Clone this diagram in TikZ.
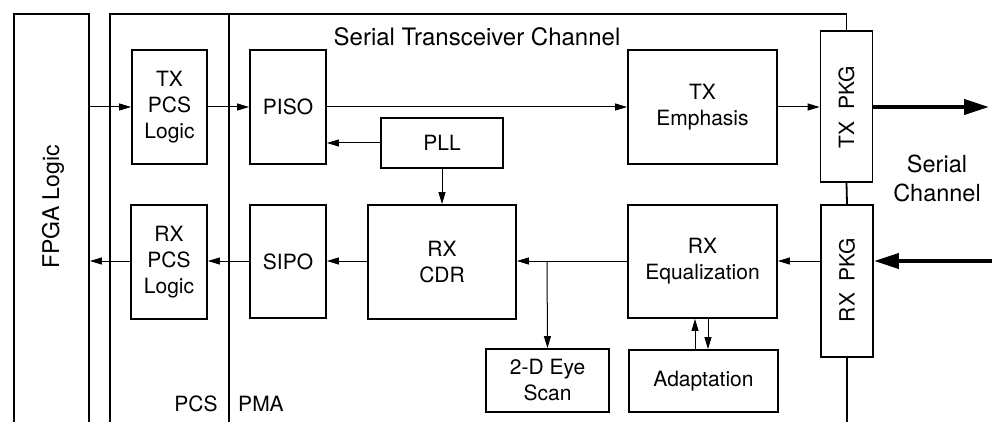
\documentclass[tikz,border=0pt]{standalone}
\usepackage{fontspec}
\setmainfont{TeX Gyre Heros}
\usetikzlibrary{arrows.meta}
\begin{document}
\begin{tikzpicture}[x=1pt,y=-1pt,
  box/.style={draw, line width=1.8pt, inner sep=0pt, align=center, font=\fontsize{21}{26}\selectfont},
  arr/.style={line width=1pt, -{Triangle[length=12pt,width=7pt]}},
  bigarr/.style={line width=4pt, -{Triangle[length=25pt,width=15pt]}},
  frame/.style={line width=1.8pt},
  lbl/.style={inner sep=0pt, align=center, font=\fontsize{21}{26}\selectfont}]
\useasboundingbox (0,0) rectangle (998,422);

% FPGA box (open at the bottom, runs off the page)
\node[box, minimum width=75pt, minimum height=430pt] (fpga) at (51.5,229) {};
\node[lbl, rotate=90, font=\fontsize{23}{28}\selectfont] (fpgatext) at (53,207) {FPGA Logic};

% blocks
\node[box, minimum width=75pt, minimum height=114pt] (txpcs) at (169.5,107) {TX\\PCS\\Logic};
\node[box, minimum width=76pt, minimum height=114pt] (piso) at (288,107) {PISO};
\node[box, minimum width=149pt, minimum height=114pt] (txemph) at (702.5,107) {TX\\Emphasis};
\node[box, minimum width=122pt, minimum height=50pt] (pll) at (442,143) {PLL};
\node[box, minimum width=76pt, minimum height=114pt] (rxpcs) at (169,262) {RX\\PCS\\Logic};
\node[box, minimum width=76pt, minimum height=113pt] (sipo) at (288,261.5) {SIPO};
\node[box, minimum width=148pt, minimum height=114pt] (rxcdr) at (442,262) {RX\\CDR};
\node[box, minimum width=149pt, minimum height=113pt] (rxeq) at (702.5,261.5) {RX\\Equalization};
\node[box, minimum width=123pt, minimum height=63pt] (eye) at (547.5,380.5) {2-D Eye\\Scan};
\node[box, minimum width=149pt, minimum height=62pt] (adapt) at (703.5,381) {Adaptation};
\node[box, minimum width=52pt, minimum height=151pt] (txpkg) at (846.5,106.5) {};
\node[lbl, rotate=90] (txpkgtext) at (846.5,107.5) {TX~~PKG};
\node[box, minimum width=52pt, minimum height=152pt] (rxpkg) at (847,281) {};
\node[lbl, rotate=90] (rxpkgtext) at (847,280) {RX~~PKG};

% channel frame
\draw[frame] (110,440) -- (110,14) -- (txpkg.north |- 0,14) -- (txpkg.north);
\draw[frame] (txpkg.south) -- (rxpkg.north);
\draw[frame] (rxpkg.south) -- (rxpkg.south |- 0,440);
\draw[frame] (229,14) -- (229,440);

% labels
\node[lbl, font=\fontsize{24}{28}\selectfont] (title) at (477,37) {Serial Transceiver Channel};
\node[lbl, font=\fontsize{23.5}{29}\selectfont] (serch) at (937,178) {Serial\\Channel};
\node[lbl] (pcs) at (196,404) {PCS};
\node[lbl] (pma) at (261,404) {PMA};

% coordinates for free ends
\coordinate (txout) at (989,107);
\coordinate (rxin) at (992,261);
\coordinate (split) at (547,261);

% TX path
\draw[arr] (fpga.east |- txpcs.west) -- (txpcs.west);
\draw[arr] (txpcs.east) -- (piso.west);
\draw[arr] (piso.east) -- (txemph.west);
\draw[arr] (txemph.east) -- (txpkg.west |- txemph.east);
\draw[bigarr] (txpkg.east |- txout) -- (txout);

% PLL
\draw[arr] (pll.west) -- (piso.east |- pll.west);
\draw[arr] (pll.south) -- (rxcdr.north);

% RX path
\draw[bigarr] (rxin) -- (rxpkg.east |- rxin);
\draw[arr] (rxpkg.west |- rxin) -- (rxeq.east |- rxin);
\draw[arr] (rxeq.west |- rxin) -- (rxcdr.east |- rxin);
\draw[arr] (split) -- (eye.north);
\draw[arr] (rxcdr.west |- rxin) -- (sipo.east |- rxin);
\draw[arr] (sipo.west |- rxin) -- (rxpcs.east |- rxin);
\draw[arr] (rxpcs.west |- rxin) -- (fpga.east |- rxin);

% adaptation loop
\draw[arr] (adapt.north -| 695,0) -- (rxeq.south -| 695,0);
\draw[arr] (rxeq.south -| 708,0) -- (adapt.north -| 708,0);
\end{tikzpicture}
\end{document}
